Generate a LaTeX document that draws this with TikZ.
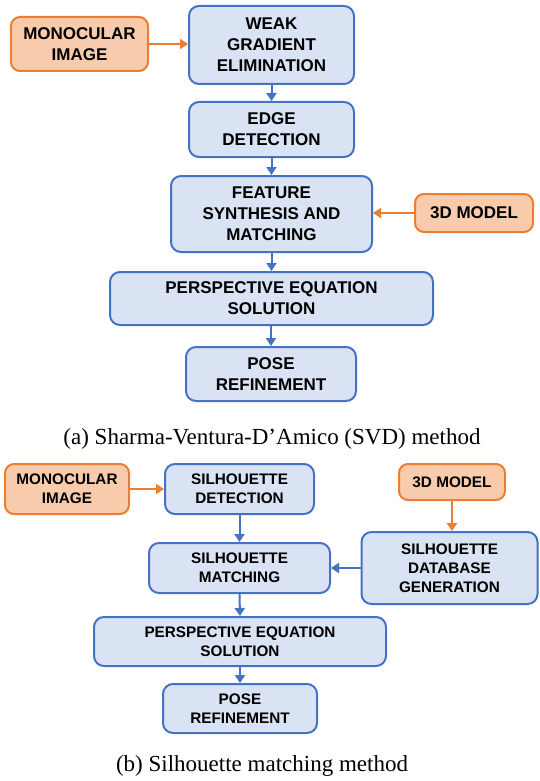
\documentclass[tikz,border=0pt]{standalone}
\usepackage{fontspec}
\setmainfont{Liberation Serif}
\newfontfamily\boxfont{Liberation Sans}
\usetikzlibrary{arrows.meta}
\definecolor{bfill}{HTML}{DAE3F3}
\definecolor{bline}{HTML}{4472C4}
\definecolor{ofill}{HTML}{F8CBAD}
\definecolor{oline}{HTML}{ED7D31}
\tikzset{
  blk/.style={draw=bline, fill=bfill, line width=2pt, rounded corners=10pt, align=center, inner sep=0pt, font=\boxfont\bfseries\fontsize{17}{21}\selectfont},
  org/.style={draw=oline, fill=ofill, line width=2pt, rounded corners=9pt, align=center, inner sep=0pt, font=\boxfont\bfseries\fontsize{17}{21}\selectfont},
  blk2/.style={blk, font=\boxfont\bfseries\fontsize{15.3}{19}\selectfont},
  org2/.style={org, font=\boxfont\bfseries\fontsize{15.3}{19}\selectfont},
  barr/.style={draw=bline, line width=2pt, -{Triangle[length=8pt,width=10pt]}},
  oarr/.style={draw=oline, line width=2pt, -{Triangle[length=8pt,width=10pt]}},
  captxt/.style={font=\fontsize{23}{26}\selectfont, inner sep=0pt}
}
\begin{document}
\begin{tikzpicture}[x=1pt,y=-1pt]
\useasboundingbox (0,0) rectangle (539,781);
% (a)
\node[org, minimum width=137pt, minimum height=54pt] (mono1) at (79.5,44) {MONOCULAR\\IMAGE};
\node[blk, minimum width=165pt, minimum height=78pt] (weak) at (271.5,45) {WEAK\\GRADIENT\\ELIMINATION};
\node[blk, minimum width=165pt, minimum height=55pt] (edge) at (271.5,129.5) {EDGE\\DETECTION};
\node[blk, minimum width=201pt, minimum height=76pt] (feat) at (271.5,214) {FEATURE\\SYNTHESIS AND\\MATCHING};
\node[org, minimum width=118pt, minimum height=38pt] (model1) at (474,213) {3D MODEL};
\node[blk, minimum width=323pt, minimum height=53pt] (persp1) at (271.5,298.5) {PERSPECTIVE EQUATION\\SOLUTION};
\node[blk, minimum width=170pt, minimum height=54pt] (pose1) at (271,374) {POSE\\REFINEMENT};
\node[captxt] (capa) at (272,439) {(a) Sharma-Ventura-D'Amico (SVD) method};
\draw[oarr] (mono1.east) -- (mono1.east -| weak.west);
\draw[barr] (weak.south) -- (edge.north);
\draw[barr] (edge.south) -- (feat.north);
\draw[oarr] (model1.west) -- (model1.west -| feat.east);
\draw[barr] (feat.south) -- (persp1.north);
\draw[barr] (persp1.south -| pose1.north) -- (pose1.north);
% (b)
\node[org2, minimum width=124pt, minimum height=50pt] (mono2) at (67,489) {MONOCULAR\\IMAGE};
\node[blk2, minimum width=149pt, minimum height=50pt] (sdet) at (239.5,489) {SILHOUETTE\\DETECTION};
\node[org2, minimum width=106pt, minimum height=36pt] (model2) at (452,482) {3D MODEL};
\node[blk2, minimum width=181pt, minimum height=50pt] (smatch) at (239.5,568) {SILHOUETTE\\MATCHING};
\node[blk2, minimum width=176pt, minimum height=72pt] (sdb) at (449.5,568) {SILHOUETTE\\DATABASE\\GENERATION};
\node[blk2, minimum width=292pt, minimum height=49pt] (persp2) at (240,641.5) {PERSPECTIVE EQUATION\\SOLUTION};
\node[blk2, minimum width=154pt, minimum height=49pt] (pose2) at (240,708.5) {POSE\\REFINEMENT};
\node[captxt] (capb) at (262,766) {(b) Silhouette matching method};
\draw[oarr] (mono2.east) -- (sdet.west);
\draw[oarr] (model2.south) -- (model2.south |- sdb.north);
\draw[barr] (sdet.south) -- (smatch.north);
\draw[barr] (sdb.west) -- (smatch.east);
\draw[barr] (smatch.south) -- (persp2.north);
\draw[barr] (persp2.south) -- (pose2.north);
\end{tikzpicture}
\end{document}
